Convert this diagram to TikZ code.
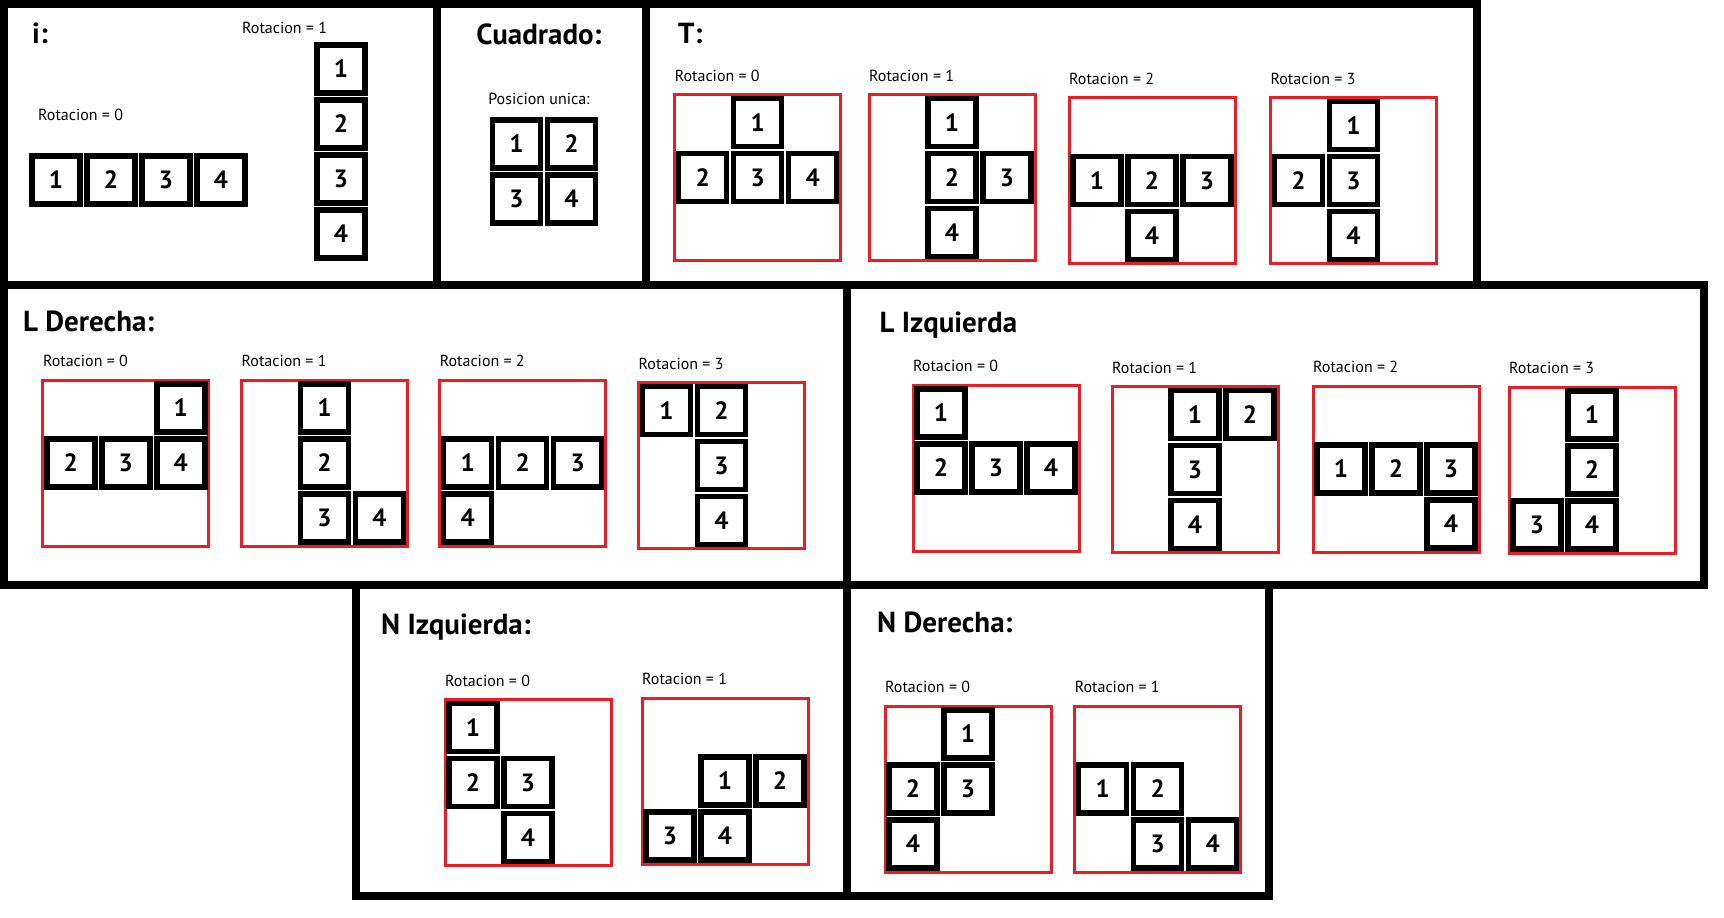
\documentclass[tikz,border=0pt]{standalone}
\usepackage{fontspec}
\setmainfont{PT Sans}

\definecolor{rojo}{RGB}{237,28,36}

\tikzset{
  panel/.style={draw=black, line width=8},
  caja/.style={draw=rojo, line width=3},
  celda/.style={draw=black, fill=white, line width=5.5, minimum size=48, inner sep=0,
    font=\bfseries\fontsize{25}{25}\selectfont},
  rotlabel/.style={anchor=west, inner sep=0, font=\fontsize{16}{18}\selectfont},
  titulo/.style={anchor=base west, inner sep=0, font=\bfseries\fontsize{29}{30}\selectfont},
}

% red frame + "Rotacion = k" label, origin = centre of grid cell (0,0)
\newcommand{\rotacion}[4]{%
  \draw[caja] ({#2-28},{#3-28}) rectangle ({#2+138},{#3+138});
  \node[rotlabel] (#1-lab) at ({#2-28},{#3-47}) {Rotacion = #4};
}
% the four blocks of a piece: col/row/number
\newcommand{\pieza}[4]{%
  \foreach \cc/\rr/\nn in {#4} {
    \node[celda] (#1-\nn) at ({#2+55*\cc},{#3+55*\rr}) {\nn};
  }
}

\begin{document}
\begin{tikzpicture}[x=1pt,y=-1pt]
      \fill[white] (0,0) rectangle (1724,918);
      \useasboundingbox (0,0) rectangle (1724,918);

      % panels
      \draw[panel] (4,4) rectangle (437,284.5);
      \draw[panel] (437,4) rectangle (646,284.5);
      \draw[panel] (646,4) rectangle (1477,284.5);
      \draw[panel] (4,285) rectangle (847,585);
      \draw[panel] (847,285) rectangle (1703.5,585);
      \draw[panel] (356,585) rectangle (847,896);
      \draw[panel] (847,585) rectangle (1269,896);

      % i
      \node[titulo] (ti) at (32,43) {i:};
      \node[rotlabel] (i0-lab) at (38,115) {Rotacion = 0};
      \node[rotlabel] (i1-lab) at (242,28) {Rotacion = 1};
      \pieza{i0}{56}{180}{0/0/1,1/0/2,2/0/3,3/0/4}
      \pieza{i1}{341}{69}{0/0/1,0/1/2,0/2/3,0/3/4}

      % cuadrado
      \node[titulo,anchor=base] (tc) at (539,44) {Cuadrado:};
      \node[rotlabel,anchor=center] (c-lab) at (539,99) {Posicion unica:};
      \pieza{c}{516.5}{144}{0/0/1,1/0/2,0/1/3,1/1/4}

      % T
      \node[titulo] (tt) at (678,43) {T:};
      \rotacion{t0}{702.6}{122.7}{0}
      \rotacion{t1}{897}{122.7}{1}
      \rotacion{t2}{1097}{125.5}{2}
      \rotacion{t3}{1298.4}{125.7}{3}
      \pieza{t0}{702.6}{122.7}{1/0/1,0/1/2,1/1/3,2/1/4}
      \pieza{t1}{897}{122.7}{1/0/1,1/1/2,2/1/3,1/2/4}
      \pieza{t2}{1097}{125.5}{0/1/1,1/1/2,2/1/3,1/2/4}
      \pieza{t3}{1298.4}{125.7}{1/0/1,0/1/2,1/1/3,1/2/4}

      % L derecha
      \node[titulo] (tld) at (23,331) {L Derecha:};
      \rotacion{ld0}{70.8}{408}{0}
      \rotacion{ld1}{269.5}{408}{1}
      \rotacion{ld2}{467.6}{408}{2}
      \rotacion{ld3}{666.5}{410.5}{3}
      \pieza{ld0}{70.8}{408}{2/0/1,0/1/2,1/1/3,2/1/4}
      \pieza{ld1}{269.5}{408}{1/0/1,1/1/2,1/2/3,2/2/4}
      \pieza{ld2}{467.6}{408}{0/1/1,1/1/2,2/1/3,0/2/4}
      \pieza{ld3}{666.5}{410.5}{0/0/1,1/0/2,1/1/3,1/2/4}

      % L izquierda
      \node[titulo] (tli) at (879.5,332) {L Izquierda};
      \rotacion{li0}{941}{413}{0}
      \rotacion{li1}{1140}{414.5}{1}
      \rotacion{li2}{1341}{414}{2}
      \rotacion{li3}{1537}{415}{3}
      \pieza{li0}{941}{413}{0/0/1,0/1/2,1/1/3,2/1/4}
      \pieza{li1}{1140}{414.5}{1/0/1,2/0/2,1/1/3,1/2/4}
      \pieza{li2}{1341}{414}{0/1/1,1/1/2,2/1/3,2/2/4}
      \pieza{li3}{1537}{415}{1/0/1,1/1/2,0/2/3,1/2/4}

      % N izquierda
      \node[titulo] (tni) at (381,634) {N Izquierda:};
      \rotacion{ni0}{473}{727.5}{0}
      \rotacion{ni1}{670}{726}{1}
      \pieza{ni0}{473}{727.5}{0/0/1,0/1/2,1/1/3,1/2/4}
      \pieza{ni1}{670}{726}{1/1/1,2/1/2,0/2/3,1/2/4}

      % N derecha
      \node[titulo] (tnd) at (877,632) {N Derecha:};
      \rotacion{nd0}{913}{734}{0}
      \rotacion{nd1}{1102.6}{734}{1}
      \pieza{nd0}{913}{734}{1/0/1,0/1/2,1/1/3,0/2/4}
      \pieza{nd1}{1102.6}{734}{0/1/1,1/1/2,1/2/3,2/2/4}

\end{tikzpicture}
\end{document}
